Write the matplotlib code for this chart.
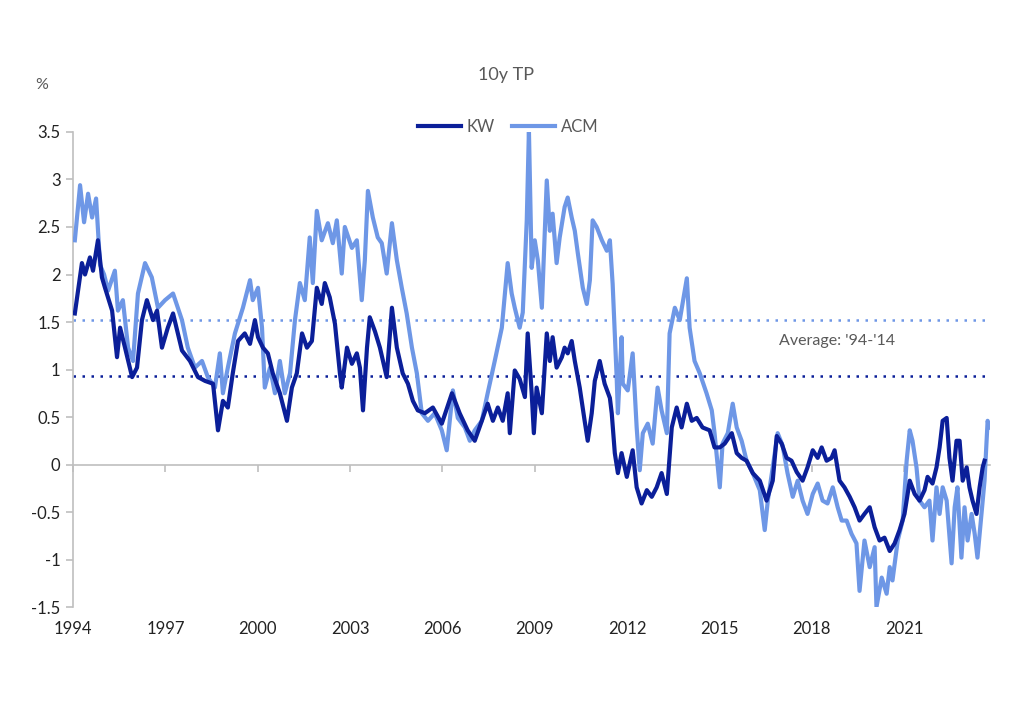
import matplotlib
matplotlib.use("Agg")
import matplotlib.pyplot as plt

plt.rcParams['font.family'] = ['Lato', 'DejaVu Sans']

# term premium readings, decimal year / percent
acm_years = [1994.06, 1994.23, 1994.36, 1994.49, 1994.62, 1994.75, 1994.88, 1995.01, 1995.14, 1995.36,
             1995.46, 1995.62, 1995.79, 1995.95, 1996.11, 1996.34, 1996.56, 1996.76, 1996.99, 1997.25,
             1997.54, 1997.73, 1997.96, 1998.19, 1998.38, 1998.61, 1998.77, 1998.87, 1999.03, 1999.26,
             1999.52, 1999.75, 1999.84, 2000.01, 2000.14, 2000.23, 2000.40, 2000.56, 2000.72, 2000.88,
             2001.05, 2001.21, 2001.37, 2001.53, 2001.69, 2001.79, 2001.92, 2002.08, 2002.28, 2002.44,
             2002.57, 2002.73, 2002.83, 2003.06, 2003.22, 2003.38, 2003.48, 2003.58, 2003.74, 2003.90,
             2004.03, 2004.19, 2004.36, 2004.52, 2004.68, 2004.84, 2005.01, 2005.17, 2005.33, 2005.53,
             2005.75, 2005.98, 2006.14, 2006.34, 2006.50, 2006.73, 2006.89, 2007.05, 2007.28, 2007.47,
             2007.70, 2007.93, 2008.12, 2008.25, 2008.35, 2008.51, 2008.61, 2008.74, 2008.81, 2008.90,
             2009.00, 2009.10, 2009.23, 2009.39, 2009.49, 2009.58, 2009.71, 2009.81, 2009.97, 2010.07,
             2010.20, 2010.30, 2010.40, 2010.56, 2010.69, 2010.79, 2010.88, 2011.01, 2011.18, 2011.34,
             2011.44, 2011.53, 2011.66, 2011.70, 2011.82, 2011.86, 2012.02, 2012.18, 2012.31, 2012.41,
             2012.51, 2012.67, 2012.83, 2012.99, 2013.12, 2013.29, 2013.38, 2013.55, 2013.71, 2013.94,
             2014.03, 2014.19, 2014.36, 2014.58, 2014.75, 2014.84, 2015.01, 2015.10, 2015.27, 2015.43,
             2015.56, 2015.72, 2015.88, 2016.08, 2016.31, 2016.47, 2016.57, 2016.73, 2016.89, 2017.05,
             2017.21, 2017.38, 2017.54, 2017.70, 2017.86, 2018.03, 2018.19, 2018.35, 2018.51, 2018.68,
             2018.84, 2018.97, 2019.13, 2019.29, 2019.45, 2019.55, 2019.71, 2019.88, 2020.04, 2020.10,
             2020.27, 2020.43, 2020.53, 2020.62, 2020.79, 2020.95, 2021.08, 2021.18, 2021.27, 2021.40,
             2021.50, 2021.66, 2021.82, 2021.92, 2022.05, 2022.15, 2022.25, 2022.38, 2022.54, 2022.64,
             2022.73, 2022.86, 2022.96, 2023.06, 2023.19, 2023.29, 2023.38, 2023.51, 2023.61, 2023.71,
             2023.77]
acm = [2.36, 2.94, 2.55, 2.85, 2.60, 2.80, 2.10, 2.00, 1.83, 2.04,
       1.62, 1.73, 1.23, 1.09, 1.80, 2.12, 1.97, 1.65, 1.73, 1.80,
       1.52, 1.23, 1.02, 1.09, 0.92, 0.81, 1.17, 0.75, 1.02, 1.38,
       1.65, 1.94, 1.73, 1.86, 1.44, 0.81, 1.02, 0.75, 1.09, 0.75,
       0.96, 1.52, 1.91, 1.73, 2.39, 1.91, 2.67, 2.36, 2.54, 2.33,
       2.57, 2.01, 2.50, 2.28, 2.36, 1.73, 2.15, 2.88, 2.60, 2.39,
       2.33, 2.01, 2.54, 2.15, 1.86, 1.59, 1.23, 0.96, 0.54, 0.46,
       0.54, 0.36, 0.15, 0.78, 0.49, 0.39, 0.25, 0.36, 0.46, 0.75,
       1.09, 1.44, 2.12, 1.80, 1.65, 1.44, 1.60, 2.57, 3.52, 2.07,
       2.36, 2.15, 1.65, 2.99, 2.46, 2.64, 2.12, 2.39, 2.71, 2.81,
       2.60, 2.46, 2.22, 1.86, 1.69, 1.94, 2.57, 2.50, 2.36, 2.25,
       2.36, 1.90, 0.92, 0.54, 1.34, 0.85, 0.78, 1.17, 0.39, -0.06,
       0.33, 0.43, 0.22, 0.81, 0.57, 0.33, 1.38, 1.65, 1.52, 1.96,
       1.44, 1.09, 0.96, 0.75, 0.57, 0.33, -0.24, 0.22, 0.33, 0.64,
       0.39, 0.25, 0.04, -0.09, -0.27, -0.69, -0.38, -0.03, 0.33, 0.20,
       -0.09, -0.34, -0.17, -0.38, -0.52, -0.31, -0.20, -0.38, -0.41, -0.24,
       -0.45, -0.59, -0.59, -0.73, -0.83, -1.33, -0.80, -1.08, -0.87, -1.50,
       -1.19, -1.36, -1.08, -1.22, -0.80, -0.59, 0.04, 0.36, 0.25, -0.03,
       -0.38, -0.45, -0.38, -0.80, -0.24, -0.52, -0.24, -0.38, -1.04, -0.45,
       -0.24, -0.98, -0.45, -0.80, -0.52, -0.73, -0.98, -0.52, -0.17, 0.46,
       0.39]

kw_years = [1994.06, 1994.29, 1994.39, 1994.55, 1994.65, 1994.81, 1994.94, 1995.04, 1995.27, 1995.43,
            1995.53, 1995.69, 1995.92, 1996.08, 1996.24, 1996.40, 1996.60, 1996.73, 1996.89, 1997.08,
            1997.25, 1997.54, 1997.80, 1998.06, 1998.29, 1998.55, 1998.71, 1998.87, 1999.03, 1999.19,
            1999.36, 1999.58, 1999.75, 1999.91, 2000.01, 2000.17, 2000.33, 2000.49, 2000.72, 2000.95,
            2001.11, 2001.27, 2001.44, 2001.60, 2001.76, 2001.92, 2002.08, 2002.18, 2002.34, 2002.51,
            2002.67, 2002.73, 2002.90, 2003.06, 2003.22, 2003.32, 2003.42, 2003.55, 2003.64, 2003.81,
            2003.97, 2004.19, 2004.36, 2004.52, 2004.71, 2004.88, 2005.04, 2005.20, 2005.43, 2005.69,
            2005.98, 2006.31, 2006.56, 2006.82, 2007.05, 2007.28, 2007.47, 2007.64, 2007.80, 2007.96,
            2008.12, 2008.19, 2008.35, 2008.51, 2008.68, 2008.77, 2008.90, 2008.97, 2009.06, 2009.23,
            2009.39, 2009.49, 2009.58, 2009.71, 2009.88, 2009.97, 2010.07, 2010.20, 2010.30, 2010.46,
            2010.62, 2010.72, 2010.85, 2010.95, 2011.11, 2011.27, 2011.44, 2011.50, 2011.60, 2011.70,
            2011.82, 2011.99, 2012.18, 2012.31, 2012.47, 2012.64, 2012.80, 2012.96, 2013.12, 2013.29,
            2013.45, 2013.61, 2013.77, 2013.94, 2014.10, 2014.26, 2014.45, 2014.68, 2014.84, 2015.01,
            2015.17, 2015.40, 2015.56, 2015.72, 2015.88, 2016.08, 2016.31, 2016.53, 2016.73, 2016.86,
            2017.02, 2017.18, 2017.34, 2017.51, 2017.70, 2017.86, 2018.03, 2018.19, 2018.32, 2018.48,
            2018.64, 2018.74, 2018.90, 2019.06, 2019.23, 2019.39, 2019.55, 2019.71, 2019.88, 2020.04,
            2020.20, 2020.36, 2020.53, 2020.69, 2020.85, 2021.01, 2021.18, 2021.34, 2021.50, 2021.66,
            2021.76, 2021.92, 2022.05, 2022.15, 2022.25, 2022.38, 2022.47, 2022.57, 2022.70, 2022.80,
            2022.90, 2023.03, 2023.12, 2023.22, 2023.35, 2023.45, 2023.55, 2023.61]
kw = [1.59, 2.12, 2.00, 2.18, 2.04, 2.36, 1.97, 1.86, 1.62, 1.13,
      1.44, 1.23, 0.92, 1.02, 1.52, 1.73, 1.52, 1.62, 1.23, 1.44,
      1.59, 1.20, 1.09, 0.92, 0.88, 0.85, 0.36, 0.67, 0.60, 0.96,
      1.30, 1.38, 1.27, 1.52, 1.34, 1.23, 1.17, 0.96, 0.75, 0.46,
      0.81, 0.96, 1.38, 1.23, 1.30, 1.86, 1.69, 1.91, 1.76, 1.48,
      0.96, 0.81, 1.23, 1.06, 1.17, 1.02, 0.57, 1.23, 1.55, 1.40,
      1.23, 0.92, 1.65, 1.23, 0.96, 0.85, 0.67, 0.57, 0.54, 0.60,
      0.43, 0.75, 0.54, 0.36, 0.25, 0.46, 0.64, 0.46, 0.60, 0.46,
      0.75, 0.33, 0.99, 0.90, 0.71, 1.38, 0.75, 0.33, 0.81, 0.54,
      1.38, 1.09, 1.34, 1.02, 1.13, 1.23, 1.17, 1.30, 1.09, 0.81,
      0.46, 0.25, 0.54, 0.88, 1.09, 0.85, 0.70, 0.54, 0.12, -0.09,
      0.12, -0.13, 0.15, -0.24, -0.41, -0.27, -0.34, -0.24, -0.09, -0.31,
      0.39, 0.60, 0.39, 0.64, 0.46, 0.49, 0.39, 0.36, 0.18, 0.18,
      0.22, 0.33, 0.12, 0.07, 0.04, -0.09, -0.17, -0.38, -0.17, 0.30,
      0.22, 0.07, 0.04, -0.08, -0.17, -0.03, 0.15, 0.07, 0.18, 0.04,
      0.07, 0.15, -0.17, -0.24, -0.34, -0.45, -0.59, -0.52, -0.45, -0.66,
      -0.80, -0.77, -0.91, -0.83, -0.69, -0.52, -0.17, -0.31, -0.38, -0.27,
      -0.13, -0.20, -0.03, 0.18, 0.46, 0.49, 0.07, -0.17, 0.25, 0.25,
      -0.17, -0.03, -0.24, -0.38, -0.52, -0.24, -0.03, 0.04]

kw_avg = 0.93   # '94-'14 averages
acm_avg = 1.52
year_ticks = list(range(1994, 2022, 3))

kw_col = '#0B1F99'
acm_col = '#6E97E6'
grey = '#595959'
axis_grey = '#BFBFBF'

fig = plt.figure(figsize=(10.11, 7.15), dpi=100)
ax = fig.add_axes([0.0722, 0.151, 0.9068, 0.6644])

ax.plot(acm_years, acm, color=acm_col, lw=3.0, label='ACM', zorder=3, solid_joinstyle='round')
ax.plot(kw_years, kw, color=kw_col, lw=3.0, label='KW', zorder=4, solid_joinstyle='round')
ax.axhline(acm_avg, color=acm_col, lw=1.8, ls=(0, (1, 2.6)), zorder=2)
ax.axhline(kw_avg, color=kw_col, lw=1.8, ls=(0, (1, 2.6)), zorder=2)
ax.text(2016.92, 1.30, "Average: '94-'14", color=grey, fontsize=11.5, va='center', ha='left')

ax.set_xlim(1994, 2023.78)
ax.set_ylim(-1.5, 3.5)
ax.set_yticks([-1.5, -1, -0.5, 0, 0.5, 1, 1.5, 2, 2.5, 3, 3.5])
ax.set_yticklabels(['-1.5', '-1', '-0.5', '0', '0.5', '1', '1.5', '2', '2.5', '3', '3.5'])

for s in ['top', 'right']:
    ax.spines[s].set_visible(False)
ax.spines['left'].set_color(axis_grey)
ax.spines['left'].set_linewidth(1.2)
ax.spines['bottom'].set_position(('data', 0))
ax.spines['bottom'].set_color(axis_grey)
ax.spines['bottom'].set_linewidth(1.2)
ax.set_xticks(year_ticks)
ax.tick_params(axis='x', length=5, width=1.2, color=axis_grey, labelbottom=False)
ax.tick_params(axis='y', length=5, width=1.2, color=axis_grey, labelsize=12, labelcolor='#222222', pad=4)

# year labels sit below the plot, not on the zero line
sec = ax.secondary_xaxis('bottom')
sec.set_xticks(year_ticks)
sec.set_xticklabels([str(y) for y in year_ticks])
sec.spines['bottom'].set_visible(False)
sec.tick_params(length=0, labelsize=12, labelcolor='#222222', pad=10)

fig.text(0.5005, 0.895, '10y TP', ha='center', va='center', fontsize=13, color=grey)
fig.text(0.0415, 0.881, '%', ha='center', va='center', fontsize=11.5, color=grey)

h, l = ax.get_legend_handles_labels()
fig.legend([h[1], h[0]], [l[1], l[0]], loc='center', bbox_to_anchor=(0.5025, 0.822), ncol=2,
           frameon=False, fontsize=12, handlelength=2.6, handletextpad=0.35, columnspacing=1.0,
           labelcolor=grey)

fig.savefig('out.png', dpi=100)
